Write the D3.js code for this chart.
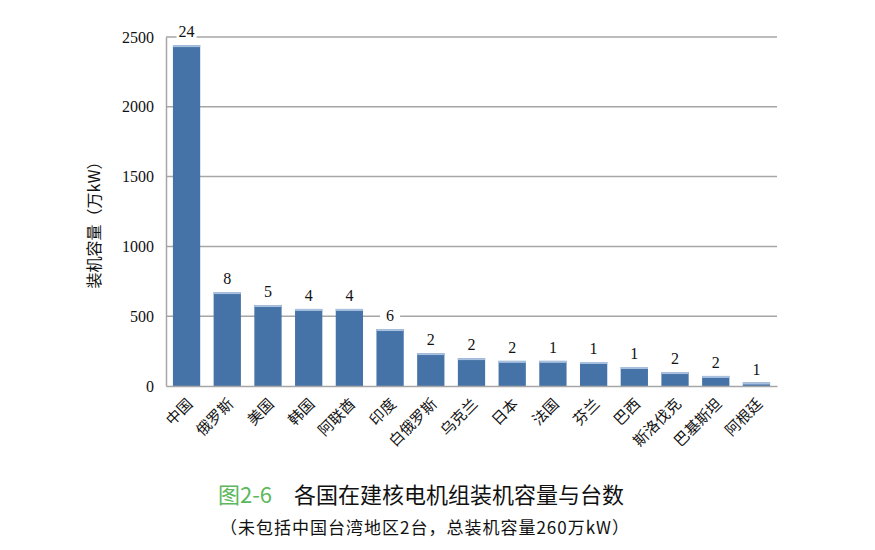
<!DOCTYPE html>
<html>
<head>
<meta charset="utf-8">
<script src="https://cdn.jsdelivr.net/npm/d3@7/dist/d3.min.js"></script>
<style>
  body { margin: 0; background: #fff; }
  svg { display: block; }
</style>
</head>
<body>
<svg id="chart" width="875" height="550"></svg>
<script>
var countries = ["中国", "俄罗斯", "美国", "韩国", "阿联酋", "印度", "白俄罗斯", "乌克兰", "日本", "法国", "芬兰", "巴西", "斯洛伐克", "巴基斯坦", "阿根廷"];
var capacity = [2442, 673, 580, 552, 552, 408, 236, 200, 180, 180, 172, 136, 100, 72, 25];
var units = [24, 8, 5, 4, 4, 6, 2, 2, 2, 1, 1, 1, 2, 2, 1];
var yTicks = [0, 500, 1000, 1500, 2000, 2500];

var svg = d3.select("#chart");
var plotLeft = 166, plotRight = 777, plotTop = 37, plotBottom = 386;

var x = d3.scaleBand()
    .domain(countries)
    .range([plotLeft, plotRight])
    .paddingInner(0.33)
    .paddingOuter(0.17);

var y = d3.scaleLinear()
    .domain([0, 2500])
    .range([plotBottom, plotTop]);

// gridlines
svg.append("g")
    .selectAll("line")
    .data(yTicks.slice(1))
    .enter().append("line")
    .attr("x1", plotLeft)
    .attr("x2", plotRight)
    .attr("y1", function(d) { return y(d); })
    .attr("y2", function(d) { return y(d); })
    .attr("stroke", "#a6a6a6")
    .attr("stroke-width", 1.5);

// y axis
var yAxis = svg.append("g")
    .attr("transform", "translate(" + plotLeft + ",0)")
    .call(d3.axisLeft(y).tickValues(yTicks).tickFormat(d3.format("d")).tickSize(0).tickPadding(12));
yAxis.select(".domain").attr("stroke", "#a6a6a6").attr("stroke-width", 1.5);
yAxis.selectAll("text")
    .attr("font-family", "'Liberation Serif', serif")
    .attr("font-size", 16)
    .attr("fill", "#111");

// bars
var rows = countries.map(function(c, i) { return { name: c, value: capacity[i], count: units[i] }; });

var bars = svg.append("g").selectAll("g.bar")
    .data(rows)
    .enter().append("g")
    .attr("class", "bar");

bars.append("rect")
    .attr("x", function(d) { return x(d.name); })
    .attr("width", x.bandwidth())
    .attr("y", function(d) { return y(d.value); })
    .attr("height", function(d) { return plotBottom - y(d.value); })
    .attr("fill", "#4673a7");

bars.append("rect")
    .attr("x", function(d) { return x(d.name); })
    .attr("width", x.bandwidth())
    .attr("y", function(d) { return y(d.value); })
    .attr("height", function(d) { return Math.min(2, plotBottom - y(d.value)); })
    .attr("fill", "#a9c0de");

// x axis
var xAxis = svg.append("g")
    .attr("transform", "translate(0," + plotBottom + ")")
    .call(d3.axisBottom(x).tickSize(0).tickPadding(0));
xAxis.select(".domain").attr("stroke", "#a6a6a6").attr("stroke-width", 1.5);
xAxis.selectAll("text")
    .attr("font-family", "'Noto Sans CJK SC', sans-serif")
    .attr("font-size", 15)
    .attr("fill", "#111")
    .attr("text-anchor", "end")
    .attr("dy", null)
    .attr("y", 0)
    .attr("transform", "translate(7,19) rotate(-45)");

// data labels with white backing
var labels = svg.append("g").selectAll("g.lbl")
    .data(rows)
    .enter().append("g")
    .attr("transform", function(d) {
        return "translate(" + (x(d.name) + x.bandwidth() / 2) + "," + (y(d.value) - 8) + ")";
    });
labels.append("rect")
    .attr("x", -10)
    .attr("y", -13)
    .attr("width", 20)
    .attr("height", 14)
    .attr("fill", "#fff");
labels.append("text")
    .attr("text-anchor", "middle")
    .attr("font-family", "'Liberation Serif', serif")
    .attr("font-size", 16)
    .attr("fill", "#111")
    .text(function(d) { return d.count; });

// y axis title
svg.append("text")
    .attr("transform", "translate(100,221) rotate(-90)")
    .attr("text-anchor", "middle")
    .attr("font-family", "'Noto Sans CJK SC', sans-serif")
    .attr("font-size", 16)
    .attr("fill", "#111")
    .text("装机容量（万kW）");

// caption
var cap = svg.append("text")
    .attr("x", 218)
    .attr("y", 503)
    .attr("font-family", "'Noto Sans CJK SC', sans-serif")
    .attr("font-size", 22)
    .attr("fill", "#111");
cap.append("tspan").attr("fill", "#5cb85c").text("图2-6");
cap.append("tspan").attr("dx", 22).text("各国在建核电机组装机容量与台数");

svg.append("text")
    .attr("x", 220)
    .attr("y", 534)
    .attr("font-family", "'Noto Sans CJK SC', sans-serif")
    .attr("font-size", 17)
    .attr("letter-spacing", 1)
    .attr("fill", "#111")
    .text("（未包括中国台湾地区2台，总装机容量260万kW）");
</script>
</body>
</html>
